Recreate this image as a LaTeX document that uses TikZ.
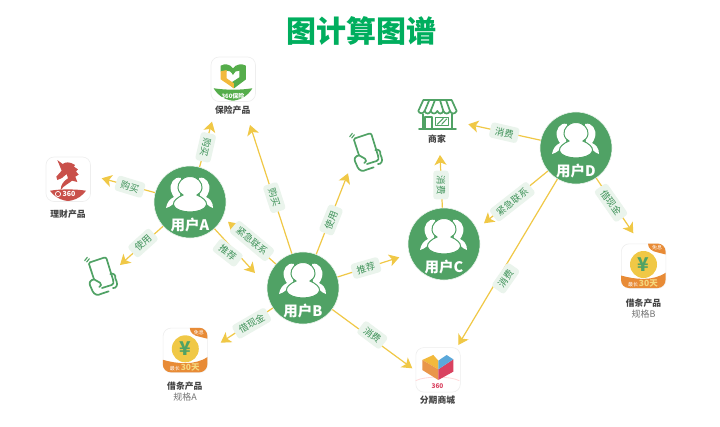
\documentclass[tikz,border=0pt]{standalone}
\usepackage{fontspec}
\setmainfont{Noto Sans CJK SC}
\usetikzlibrary{arrows.meta}
\definecolor{ugreen}{HTML}{50A265}
\definecolor{ttl}{HTML}{00AE5E}
\definecolor{ylw}{HTML}{F0C846}
\definecolor{pale}{HTML}{EAF4EC}
\definecolor{ltxt}{HTML}{3F9259}
\definecolor{dtxt}{HTML}{444444}
\definecolor{org}{HTML}{E88B36}
\definecolor{igreen}{HTML}{55AD4B}
\definecolor{ired}{HTML}{C9504A}
\definecolor{bord}{HTML}{EEEEEE}
\definecolor{hy}{HTML}{F2B93C}
\definecolor{ho}{HTML}{E9964A}
\definecolor{hr}{HTML}{D9415F}
\definecolor{hb}{HTML}{5AA8DA}
\tikzset{
  x=1pt,y=-1pt,
  conn/.style={draw=ylw,line width=1.2pt,-{Stealth[length=10pt,width=12pt,inset=2.6pt]}},
  lab/.style={fill=pale,rounded corners=3pt,text=ltxt,font=\fontsize{9.4}{10}\selectfont,inner xsep=5pt,inner ysep=0pt,minimum height=15.5pt},
  ubub/.style={circle,fill=ugreen,draw=pale,line width=.6pt,minimum size=72pt,inner sep=0pt},
  ulab/.style={text=white,font=\bfseries\fontsize{14.5}{15}\selectfont,inner sep=0pt},
  ptxt/.style={text=dtxt,font=\bfseries\fontsize{8.8}{10}\selectfont,inner sep=0pt},
  stxt/.style={text=black!55,font=\fontsize{9}{10}\selectfont,inner sep=0pt},
  appbox/.style={draw=bord,line width=.6pt,fill=white,rounded corners=8pt,minimum size=44.5pt,inner sep=0pt},
  line/.style={draw=ugreen,line width=1.7pt,line join=round,line cap=round},
}
\newcommand{\userbub}[4]{% name, x, y, text
  \node[ubub] (#1) at (#2,#3) {};
  \begin{scope}[shift={(#1.center)}]
    \fill[white] (-9,-24) .. controls (-16,-26) and (-21,-18) .. (-19,-11) .. controls (-18,-8) and (-17,-6) .. (-16,-5) .. controls (-20,-3) and (-23,0) .. (-24,6) .. controls (-19,5) and (-14,0) .. (-10,-6) -- cycle;
    \fill[white] (9,-24) .. controls (16,-26) and (21,-18) .. (19,-11) .. controls (18,-8) and (17,-6) .. (16,-5) .. controls (20,-3) and (23,0) .. (23,6) .. controls (19,5) and (14,0) .. (10,-6) -- cycle;
    \fill[white,draw=ugreen,line width=1pt] (0,-25.5) .. controls (-8,-25.5) and (-12.5,-19) .. (-12,-14) .. controls (-11.5,-10) and (-9,-8) .. (-7,-7) .. controls (-12,-5) and (-17.5,-1) .. (-16.5,3) .. controls (-15.5,7.5) and (-7,10) .. (0,10) .. controls (7,10) and (15.5,7.5) .. (16.5,3) .. controls (17.5,-1) and (12,-5) .. (7,-7) .. controls (9,-8) and (11.5,-10) .. (12,-14) .. controls (12.5,-19) and (8,-25.5) .. (0,-25.5) -- cycle;
    \node[ulab] (#1-t) at (0,23.5) {#4};
  \end{scope}
}
\newcommand{\phoneicon}[2]{% x,y origin
  \begin{scope}[shift={(#1,#2)},scale=0.3333]
    \draw[line] (42,88) -- (27,42) .. controls (26,39) and (27,38) .. (30,37) -- (72,23) .. controls (76,22) and (79,24) .. (80,27) -- (100,92);
    \draw[line] (100,92) .. controls (102,98) and (100,103) .. (95,105) -- (66,114);
    \draw[line] (42,88) .. controls (32,90) and (26,97) .. (30,106) -- (38,124) .. controls (43,135) and (55,137) .. (62,132) -- (86,124);
    \draw[line] (42,88) -- (60,98) .. controls (65,102) and (64,109) .. (58,111);
    \draw[line] (91,72) .. controls (100,68) and (108,75) .. (106,85) -- (110,95) .. controls (114,105) and (108,116) .. (99,114);
    \draw[line,line width=1.1pt] (14,32) -- (22,22);
    \draw[line,line width=1.1pt] (20,36) -- (28,26);
  \end{scope}
}
\newcommand{\coinicon}[3]{% name,x,y
  \node[appbox,anchor=north west] (#1) at (#2,#3) {};
  \begin{scope}[shift={(#1.north west)}]
    \begin{scope}
      \clip[rounded corners=8pt] (0,0) rectangle (44.5,44.5);
      \fill[org] (27,0) .. controls (27,5) and (31,8) .. (37,9) -- (45,11) -- (45,0) -- cycle;
      \fill[org] (0,32) .. controls (14,36) and (32,38) .. (45,29) -- (45,45) -- (0,45) -- cycle;
    \end{scope}
    \fill[ylw] (22.5,21) circle (13.5);
    \node[text=ugreen,font=\bfseries\fontsize{19}{20}\selectfont,inner sep=0pt] (#1-y) at (22.5,21) {¥};
    \node[text=white,font=\fontsize{5}{6}\selectfont,inner sep=0pt] (#1-f) at (36,4.5) {免息};
    \node[inner sep=0pt,font=\fontsize{5}{6}\selectfont,text=white] (#1-d) at (22,39.5) {最长\,\textcolor{ylw!70!white}{\bfseries\fontsize{8.5}{10}\selectfont 30天}};
  \end{scope}
}
\begin{document}
\begin{tikzpicture}
\useasboundingbox (0,0) rectangle (720,426);
\fill[white] (0,0) rectangle (720,426);
\node[text=ttl,font=\bfseries\fontsize{30}{32}\selectfont,inner sep=0pt] (title) at (361,31) {图计算图谱};

% user bubbles are declared first so connectors can refer to them
\userbub{ua}{190}{202}{用户A}
\userbub{ub}{303}{288}{用户B}
\userbub{uc}{444}{244}{用户C}
\userbub{ud}{576}{148}{用户D}

% free ends
\coordinate (t1) at (212,121.7);
\coordinate (t2) at (101.7,178.3);
\coordinate (t3) at (120,265);
\coordinate (t4) at (255,273);
\coordinate (t5) at (228,221.7);
\coordinate (t6) at (250,125);
\coordinate (t7) at (348,173.3);
\coordinate (t8) at (399.3,257.3);
\coordinate (t9) at (220.7,342.7);
\coordinate (t10) at (412.3,368.3);
\coordinate (t11) at (440,155);
\coordinate (t12) at (468.3,124.3);
\coordinate (t13) at (484,223.3);
\coordinate (t14) at (458.3,345);
\coordinate (t15) at (633.3,233.3);

\draw[conn] (ua) -- (t1);
\draw[conn] (ua) -- (t2);
\draw[conn] (ua) -- (t3);
\draw[conn] (ua) -- (t4);
\draw[conn] (ub) -- (t5);
\draw[conn] (ub) -- (t6);
\draw[conn] (ub) -- (t7);
\draw[conn] (ub) -- (t8);
\draw[conn] (ub) -- (t9);
\draw[conn] (ub) -- (t10);
\draw[conn] (uc) -- (t11);
\draw[conn] (ud) -- (t12);
\draw[conn] (ud) -- (t13);
\draw[conn] (ud) -- (t14);
\draw[conn] (ud) -- (t15);

% edge labels
\node[lab,rotate=-103] (l1) at (205.7,147.3) {购买};
\node[lab,rotate=-17] (l2) at (130,186.7) {购买};
\node[lab,rotate=42] (l3) at (143,243) {使用};
\node[lab,rotate=-38] (l4) at (227.7,252.7) {推荐};
\node[lab,rotate=-40] (l5) at (252,241) {紧急联系};
\node[lab,rotate=-72] (l6) at (274.3,197.7) {购买};
\node[lab,rotate=68] (l7) at (331,220) {使用};
\node[lab,rotate=16] (l8) at (366,268) {推荐};
\node[lab,rotate=30] (l9) at (251.7,323.3) {借现金};
\node[lab,rotate=-37] (l10) at (372.3,335) {消费};
\node[lab,rotate=-90] (l11) at (441,185) {消费};
\node[lab,rotate=-13] (l12) at (504.3,132.7) {消费};
\node[lab,rotate=38] (l13) at (512.3,201.7) {紧急联系};
\node[lab,rotate=55] (l14) at (505.7,278.3) {消费};
\node[lab,rotate=-55] (l15) at (611,202.7) {借现金};

% insurance app
\node[appbox,anchor=north west] (ins) at (210.7,56.7) {};
\begin{scope}[shift={(30,50)},scale=0.3333]
  \begin{scope}
    \clip[rounded corners=24pt] (542,20) rectangle (676,152);
    \fill[igreen] (542,113) .. controls (580,121) and (640,121) .. (676,113) -- (676,152) -- (542,152) -- cycle;
  \end{scope}
  \fill[igreen] (572,47) .. controls (585,40) and (600,42) .. (609,55) .. controls (618,42) and (635,40) .. (648,47) -- (648,88) -- (612,115) -- (596,103) -- (628,82) -- (628,62) .. controls (620,60) and (614,66) .. (609,75) .. controls (604,66) and (598,60) .. (590,62) -- (590,65) -- (572,65) -- cycle;
  \fill[hy] (572,64) -- (590,60) -- (590,85) -- (612,100) -- (612,115) -- (572,88) -- cycle;
\end{scope}
\node[text=white,font=\bfseries\fontsize{6}{7}\selectfont,inner sep=0pt] (insb) at (233,96) {360保险};
\node[ptxt] (inst) at (232.7,110.5) {保险产品};

% finance app
\node[appbox,anchor=north west] (fin) at (45.7,156.7) {};
\begin{scope}[shift={(40,150)},scale=0.3333]
  \begin{scope}
    \clip[rounded corners=24pt] (17,20) rectangle (151,153);
    \fill[ired] (17,125) .. controls (50,116) and (118,116) .. (151,125) -- (151,153) -- (17,153) -- cycle;
  \end{scope}
  \fill[ired] (52,30) -- (68,42) .. controls (75,36) and (90,34) .. (105,45) -- (102,50) -- (114,58) -- (108,64) -- (116,74) -- (106,80) -- (112,96) -- (96,92) .. controls (88,100) and (72,106) .. (62,120) .. controls (62,104) and (72,92) .. (84,85) -- (80,72) -- (66,84) -- (52,90) -- (49,80) -- (65,62) -- cycle;
\end{scope}
\draw[white,line width=.7pt] (58,194) circle (2.6);
\node[text=white,font=\bfseries\fontsize{7}{8}\selectfont,inner sep=0pt] (finb) at (69,194) {360};
\node[ptxt] (fint) at (68,214.5) {理财产品};

% phones
\phoneicon{80}{250}
\phoneicon{345}{126}

% shop
\begin{scope}[shift={(410,95)},scale=0.3333]
  \draw[line] (40,15) -- (125,15) -- (140,48) .. controls (135,58) and (124,58) .. (120,48) .. controls (116,58) and (104,58) .. (100,48) .. controls (96,58) and (86,58) .. (82,48) .. controls (78,58) and (66,58) .. (62,48) .. controls (58,58) and (48,58) .. (44,48) .. controls (38,58) and (28,56) .. (25,48) -- cycle;
  \draw[line] (58,15) -- (44,48);
  \draw[line] (75,15) -- (62,48);
  \draw[line] (90,15) -- (100,48);
  \draw[line] (108,15) -- (120,48);
  \draw[line] (38,58) -- (38,102);
  \draw[line] (127,58) -- (127,102);
  \draw[line] (27,102) -- (138,102);
  \draw[line] (45,66) -- (65,66) -- (65,102);
  \draw[line] (45,66) -- (45,102);
  \draw[line,line width=1pt] (75,66) -- (116,66) -- (116,92) -- (75,92) -- cycle;
  \draw[line,line width=1pt] (82,88) -- (100,70);
  \draw[line,line width=1pt] (95,88) -- (110,72);
\end{scope}
\node[ptxt] (shopt) at (437,139.5) {商家};

% coin apps
\coinicon{ca}{162.8}{327.8}
\node[ptxt] (cat) at (184.8,386) {借条产品};
\node[stxt] (cas) at (185,397.5) {规格A};
\coinicon{cb}{621}{243.5}
\node[ptxt] (cbt) at (643.5,303) {借条产品};
\node[stxt] (cbs) at (643.5,314.5) {规格B};

% instalment mall
\node[appbox,anchor=north west] (mall) at (415.5,347.3) {};
\begin{scope}[shift={(130,240)},scale=0.3333]
  \draw[red!15,line width=.8pt] (857,422) .. controls (885,408) and (960,408) .. (988,422);
  \fill[hy] (877,360) -- (910,345) -- (925,362) -- (925,388) -- cycle;
  \fill[ho] (877,360) -- (925,388) -- (925,420) -- (877,390) -- cycle;
  \fill[hr] (925,388) -- (970,358) -- (970,395) -- (925,420) -- cycle;
  \fill[hb] (925,362) -- (950,345) -- (970,358) -- (925,388) -- cycle;
\end{scope}
\node[text=hr,font=\bfseries\fontsize{6.5}{7}\selectfont,inner sep=0pt] (mallb) at (437.5,386.5) {360};
\node[ptxt] (mallt) at (437.5,400) {分期商城};
\end{tikzpicture}
\end{document}
